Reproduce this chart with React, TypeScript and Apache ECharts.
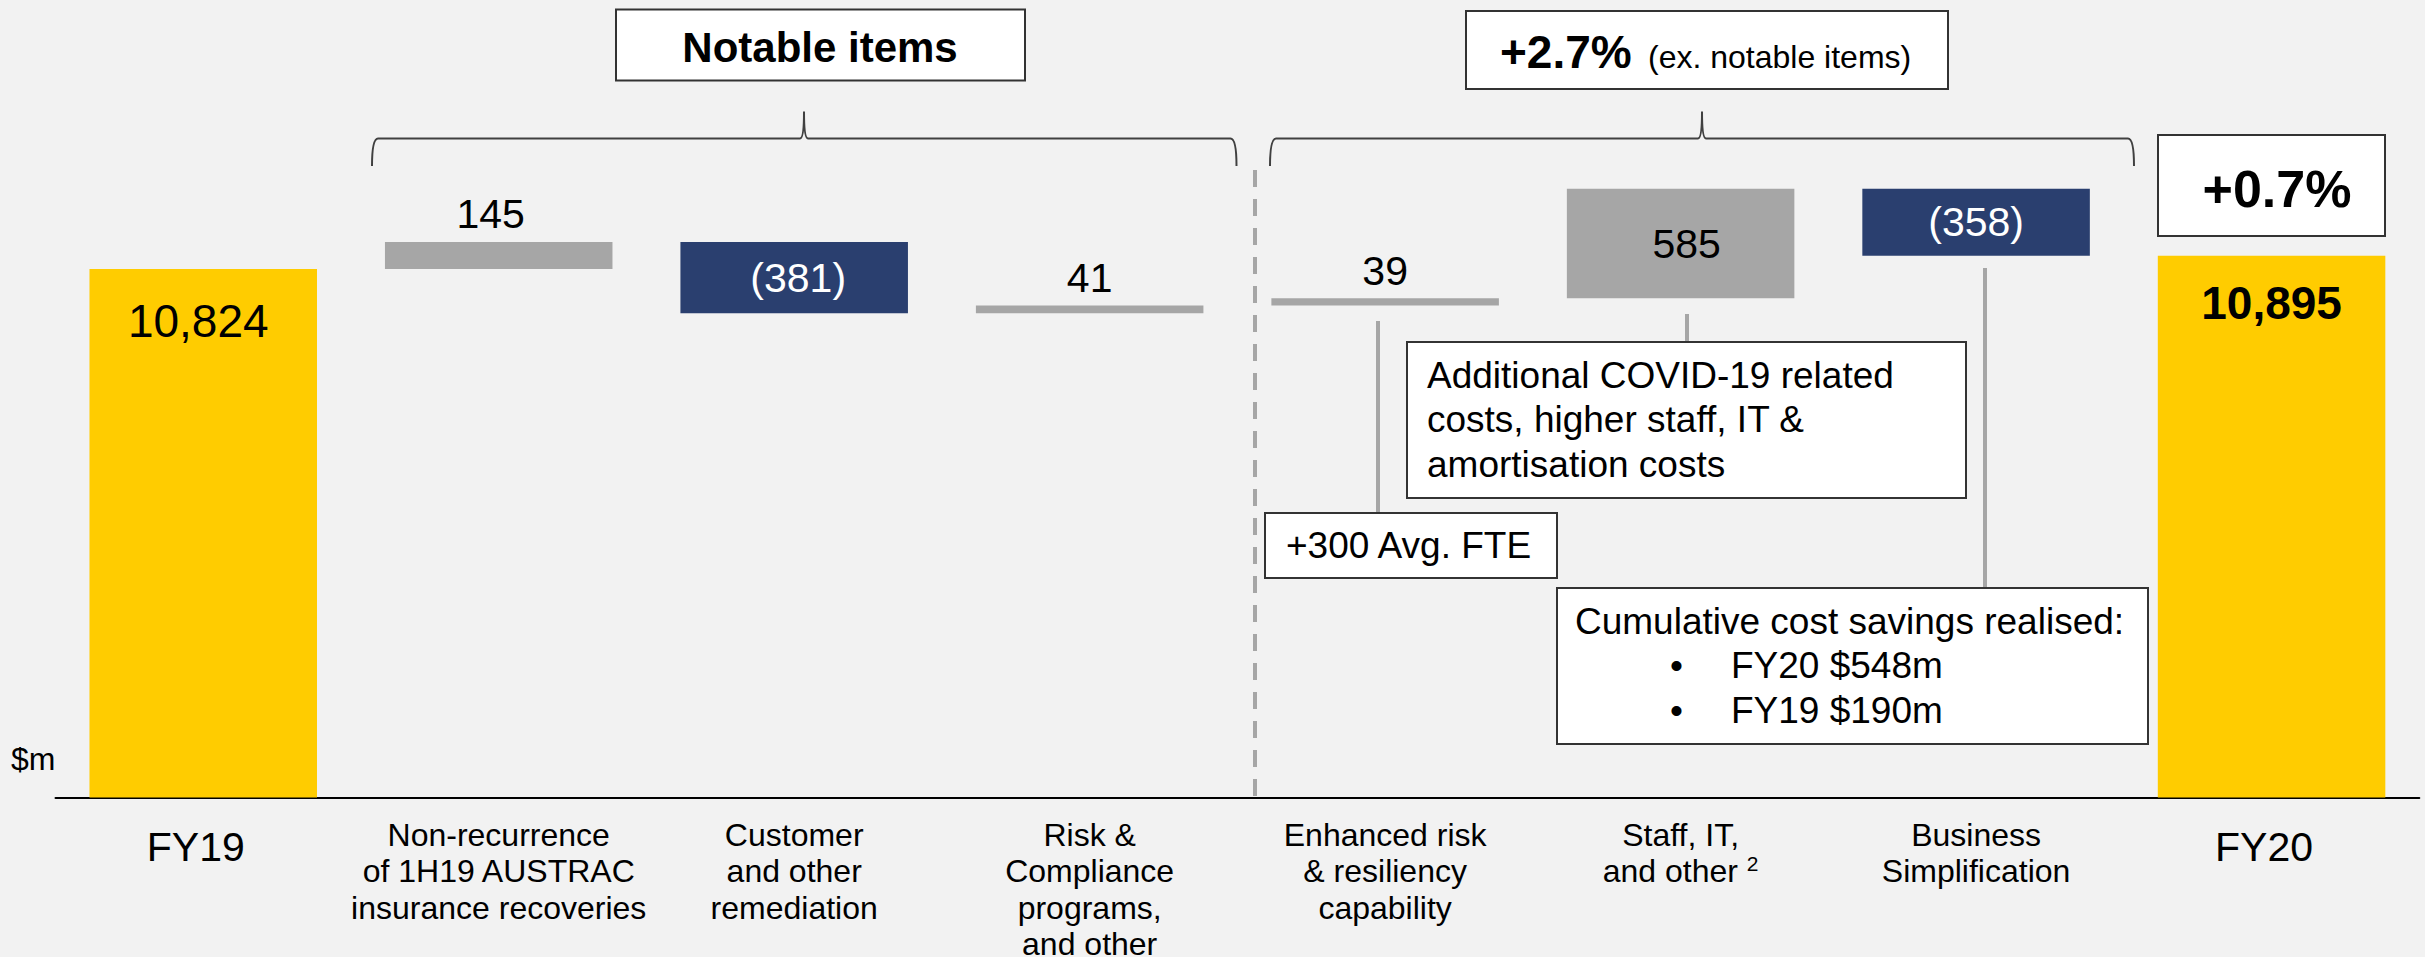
import React, { useEffect, useRef } from 'react';
import * as echarts from 'echarts';

// ---------- data ----------
const categories = [
  'FY19',
  'Non-recurrence\nof 1H19 AUSTRAC\ninsurance recoveries',
  'Customer\nand other\nremediation',
  'Risk &\nCompliance\nprograms,\nand other',
  'Enhanced risk\n& resiliency\ncapability',
  'Staff, IT,\nand other',
  'Business\nSimplification',
  'FY20',
];
const footnotes = ['', '', '', '', '', '2', '', ''];
const fy19Total = 10824;
const fy20Total = 10895;
const movements = [145, -381, 41, 39, 585, -358];

// ---------- style ----------
const FONT = '"Liberation Sans", Arial, Helvetica, sans-serif';
const GRAY = '#a6a6a6';
const NAVY = '#2a3f6f';
const YELLOW = '#ffcc00';
const BORDER = '#333333';
const BRACE = '#404040';
const labelShiftX = [-5, -8, 4, 0, 0, 6, 0, 0];

function fmt(v: number) {
  return v < 0 ? `(${Math.abs(v)})` : v.toLocaleString('en-US');
}

const Brace = echarts.graphic.extendShape({
  type: 'brace',
  shape: { x1: 0, x2: 0, xm: 0, yb: 0, ym: 0, yt: 0 },
  buildPath(ctx: any, s: any) {
    ctx.moveTo(s.x1, s.yb);
    ctx.quadraticCurveTo(s.x1, s.ym, s.x1 + 6, s.ym);
    ctx.lineTo(s.xm - 4, s.ym);
    ctx.quadraticCurveTo(s.xm, s.ym, s.xm, s.yt);
    ctx.moveTo(s.xm, s.yt);
    ctx.quadraticCurveTo(s.xm, s.ym, s.xm + 4, s.ym);
    ctx.lineTo(s.x2 - 6, s.ym);
    ctx.quadraticCurveTo(s.x2, s.ym, s.x2, s.yb);
  },
});
echarts.graphic.registerShape('brace', Brace);

function buildOption() {
  const values = [fy19Total, ...movements, fy20Total];
  const baseData: number[] = [];
  const barData: any[] = [];
  let running = fy19Total;
  values.forEach((v, i) => {
    const isTotal = i === 0 || i === values.length - 1;
    if (isTotal) {
      baseData.push(0);
      barData.push({
        value: v,
        itemStyle: { color: YELLOW },
        label: {
          show: true,
          position: 'insideTop',
          distance: i === 0 ? 29 : 24,
          offset: [labelShiftX[i], 0],
          formatter: fmt(v),
          fontSize: 46,
          fontWeight: i === 0 ? 'normal' : 'bold',
          color: '#000',
          fontFamily: FONT,
        },
      });
    } else {
      const lo = v >= 0 ? running : running + v;
      baseData.push(lo);
      running += v;
      const small = Math.abs(v) < 200;
      barData.push({
        value: Math.abs(v),
        itemStyle: { color: v >= 0 ? GRAY : NAVY },
        label: {
          show: true,
          position: small ? 'top' : 'inside',
          distance: 7,
          offset: [labelShiftX[i], 0],
          formatter: fmt(v),
          fontSize: 41,
          color: v >= 0 ? '#000' : '#fff',
          fontFamily: FONT,
        },
      });
    }
  });

  const box = (x: number, y: number, w: number, h: number) => ({
    type: 'rect',
    shape: { x, y, width: w, height: h },
    style: { fill: '#fff', stroke: BORDER, lineWidth: 2 },
  });
  const txt = (x: number, y: number, text: string, fontSize: number, opts: any = {}) => ({
    type: 'text',
    x,
    y,
    style: {
      text,
      fontSize,
      fontFamily: FONT,
      fill: '#000',
      align: 'left',
      verticalAlign: 'middle',
      ...opts,
    },
  });
  const vline = (x: number, y1: number, y2: number, dash?: number[]) => ({
    type: 'line',
    shape: { x1: x, y1, x2: x, y2 },
    style: { stroke: GRAY, lineWidth: 4, lineDash: dash },
  });

  const graphic: any[] = [
    // braces
    { type: 'brace', shape: { x1: 372, x2: 1236.5, xm: 804, yb: 166, ym: 138.5, yt: 111.5 }, style: { stroke: BRACE, lineWidth: 2, fill: 'none' } },
    { type: 'brace', shape: { x1: 1270, x2: 2134, xm: 1702, yb: 166, ym: 138.5, yt: 111.5 }, style: { stroke: BRACE, lineWidth: 2, fill: 'none' } },
    // dashed separator
    vline(1255, 170, 797, [17, 12]),
    // leader lines
    vline(1378, 321, 513),
    vline(1687, 314, 342),
    vline(1985, 268, 588),
    // headline boxes
    box(616, 9.5, 409, 71),
    txt(820, 47, 'Notable items', 42, { fontWeight: 'bold', align: 'center' }),
    box(1466, 11, 482, 78),
    txt(1500, 52, '+2.7%', 46, { fontWeight: 'bold' }),
    txt(1648, 57, '(ex. notable items)', 32),
    box(2158, 135, 227, 101),
    txt(2277, 189, '+0.7%', 52, { fontWeight: 'bold', align: 'center' }),
    // commentary boxes
    box(1407, 342, 559, 156),
    txt(1427, 353, 'Additional COVID-19 related\ncosts, higher staff, IT &\namortisation costs', 37, { verticalAlign: 'top', lineHeight: 44.5 }),
    box(1265, 513, 292, 65),
    txt(1286, 545.5, '+300 Avg. FTE', 37),
    box(1557, 588, 591, 156),
    txt(1575, 621.5, 'Cumulative cost savings realised:', 37),
    txt(1670, 665.5, '•', 37),
    txt(1731, 665.5, 'FY20 $548m', 37),
    txt(1670, 710.5, '•', 37),
    txt(1731, 710.5, 'FY19 $190m', 37),
    // unit
    txt(11, 759, '$m', 32),
  ];

  return {
    animation: false,
    backgroundColor: '#f2f2f2',
    grid: { left: 55.5, right: 5.7, top: 49, bottom: 159.5, containLabel: false, outerBoundsMode: 'none' },
    xAxis: {
      type: 'category',
      data: categories,
      axisLine: { lineStyle: { color: '#000', width: 2 } },
      axisTick: { show: false },
      axisLabel: {
        interval: 0,
        margin: 19,
        fontSize: 32,
        lineHeight: 36.4,
        color: '#000',
        fontFamily: FONT,
        formatter: (value: string, index: number) => {
          if (value === 'FY19' || value === 'FY20') return `{big|${value}}`;
          if (footnotes[index]) return `${value} {sup|${footnotes[index]}}`;
          return value;
        },
        rich: {
          big: { fontSize: 41, lineHeight: 60, padding: [0, 15, 0, 0], color: '#000', fontFamily: FONT },
          sup: { fontSize: 21, lineHeight: 30, verticalAlign: 'top', color: '#000', fontFamily: FONT },
        },
      },
    },
    yAxis: { type: 'value', min: 8000, max: 12000, show: false },
    series: [
      {
        type: 'bar',
        stack: 'wf',
        data: baseData,
        barWidth: '77%',
        itemStyle: { color: 'rgba(0,0,0,0)' },
        silent: true,
        label: { show: false },
      },
      {
        type: 'bar',
        stack: 'wf',
        data: barData,
        barWidth: '77%',
      },
    ],
    graphic,
  };
}

export default function App() {
  const ref = useRef<HTMLDivElement>(null);
  useEffect(() => {
    document.body.style.margin = '0';
    document.body.style.background = '#f2f2f2';
    const chart = echarts.init(ref.current!, undefined, { renderer: 'svg' });
    chart.setOption(buildOption() as any);
    return () => chart.dispose();
  }, []);
  return <div ref={ref} style={{ position: 'absolute', left: 0, top: 0, width: 2425, height: 957 }} />;
}
